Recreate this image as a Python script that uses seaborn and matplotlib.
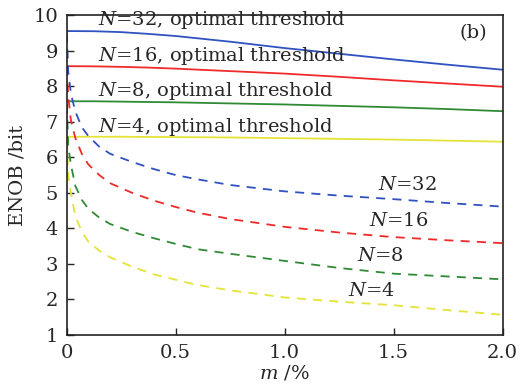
import numpy as np
import pandas as pd
import matplotlib
matplotlib.use('Agg')
import matplotlib.pyplot as plt
import seaborn as sns

# ==== data ====
# solid lines: optimal threshold
m_solid = [0.0, 0.125, 0.25, 0.375, 0.5, 0.75, 1.0, 1.25, 1.5, 1.75, 2.0]
opt_32 = [9.56, 9.555, 9.53, 9.48, 9.42, 9.26, 9.08, 8.92, 8.76, 8.61, 8.47]
opt_16 = [8.57, 8.565, 8.55, 8.53, 8.50, 8.43, 8.36, 8.27, 8.17, 8.08, 7.99]
opt_8 = [7.58, 7.58, 7.57, 7.56, 7.55, 7.52, 7.49, 7.45, 7.41, 7.36, 7.30]
opt_4 = [6.58, 6.58, 6.58, 6.575, 6.57, 6.56, 6.54, 6.52, 6.50, 6.47, 6.44]

# dashed lines: fixed threshold
m_dash = [0.001, 0.008, 0.02, 0.04, 0.07, 0.1, 0.15, 0.2, 0.3, 0.4, 0.5,
          0.6, 0.75, 1.0, 1.25, 1.5, 1.75, 2.0]
fix_32 = [9.5, 8.4, 7.8, 7.3, 6.85, 6.6, 6.3, 6.1, 5.87, 5.67, 5.5,
          5.38, 5.22, 5.04, 4.92, 4.82, 4.71, 4.61]
fix_16 = [8.55, 7.7, 7.05, 6.55, 6.1, 5.8, 5.5, 5.27, 5.0, 4.78, 4.6,
          4.44, 4.26, 4.04, 3.88, 3.75, 3.66, 3.58]
fix_8 = [7.5, 6.3, 5.8, 5.2, 4.8, 4.55, 4.3, 4.12, 3.9, 3.72, 3.56,
         3.41, 3.28, 3.08, 2.88, 2.72, 2.64, 2.56]
fix_4 = [6.5, 5.5, 5.0, 4.35, 3.9, 3.62, 3.37, 3.18, 2.92, 2.7, 2.55,
         2.4, 2.25, 2.05, 1.93, 1.83, 1.69, 1.56]

labels_n = ['32', '16', '8', '4']
colors = ['#2f52c0', '#f02a2a', '#2e8b34', '#e3e33a']

# ==== style ====
sns.set_style('ticks')
plt.rcParams['font.family'] = ['DejaVu Serif']
plt.rcParams['mathtext.fontset'] = 'dejavuserif'

fig = plt.figure(figsize=(5.28, 3.86), dpi=100)
ax = fig.add_axes([0.126, 0.133, 0.826, 0.827])

solids = [opt_32, opt_16, opt_8, opt_4]
dashes = [fix_32, fix_16, fix_8, fix_4]
for ys, c in zip(solids, colors):
    sns.lineplot(x=m_solid, y=ys, color=c, lw=1.3, ax=ax)
for ys, c in zip(dashes, colors):
    sns.lineplot(x=m_dash, y=ys, color=c, lw=1.3, ax=ax, linestyle=(0, (5, 4)))

ax.set_xlim(0, 2.0)
ax.set_ylim(1, 10)
ax.set_xticks([0, 0.5, 1.0, 1.5, 2.0])
ax.set_xticklabels(['0', '0.5', '1.0', '1.5', '2.0'])
ax.set_yticks(range(1, 11))
ax.tick_params(direction='in', length=5, width=1, labelsize=14, top=False, right=False)
ax.tick_params(axis='x', pad=7)
ax.tick_params(axis='y', pad=6)
for s in ax.spines.values():
    s.set_linewidth(1.2)
    s.set_color('#222222')

ax.set_xlabel('$m$ /%', fontsize=14, labelpad=1)
ax.set_ylabel('ENOB /bit', fontsize=14, labelpad=5)

# annotations
solid_txt_y = [9.88, 8.86, 7.88, 6.86]
for n, ty in zip(labels_n, solid_txt_y):
    ax.text(0.145, ty, '$N$=' + n + ', optimal threshold', fontsize=14, va='center')
dash_txt_x = [1.43, 1.385, 1.33, 1.29]
dash_txt_y = [5.22, 4.2, 3.21, 2.23]
for n, tx, ty in zip(labels_n, dash_txt_x, dash_txt_y):
    ax.text(tx, ty, '$N$=' + n, fontsize=14, va='center')
ax.text(1.8, 9.5, '(b)', fontsize=14, va='center')

fig.savefig('out.png', dpi=100)
